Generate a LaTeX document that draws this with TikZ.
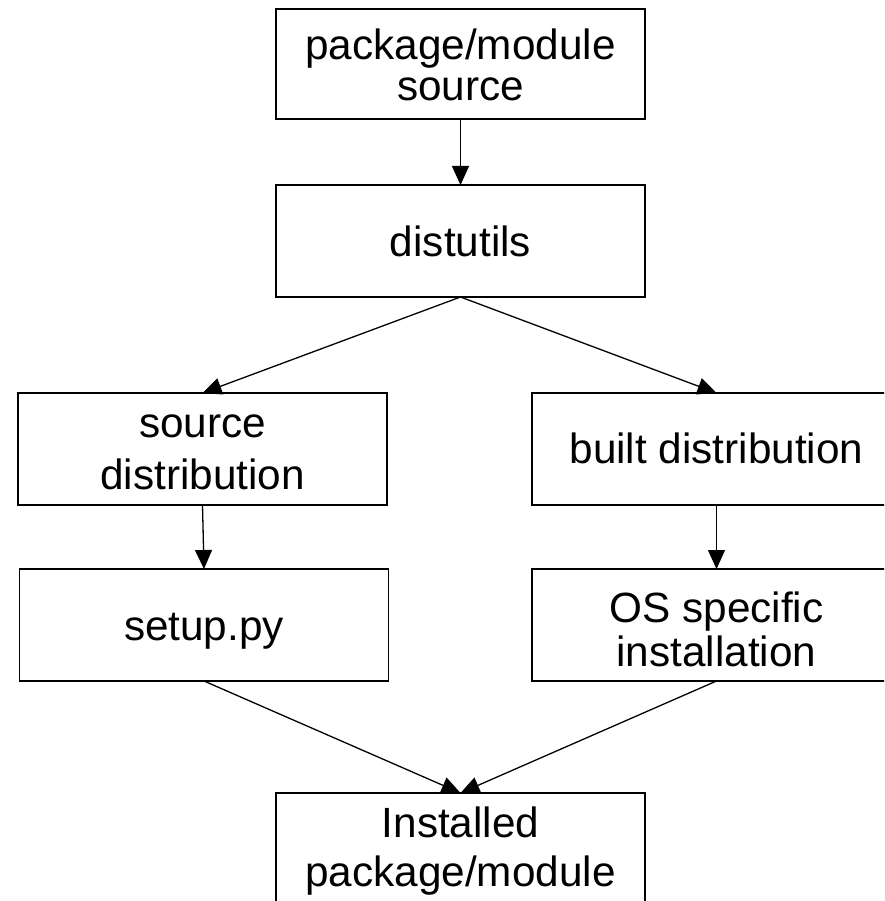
\documentclass[tikz,border=0pt]{standalone}
\usepackage{fontspec}
\setmainfont{Liberation Sans}
\usetikzlibrary{arrows.meta}
\newcommand{\lines}[4]{\rule{0pt}{#1pt}#3\\#4\rule[-#2pt]{0pt}{#2pt}}
\newcommand{\oneline}[3]{\rule{0pt}{#1pt}#3\rule[-#2pt]{0pt}{#2pt}}
\tikzset{
  flowbox/.style={draw=black, line width=1.4pt, minimum width=369pt, minimum height=112pt,
    inner sep=0pt, outer sep=0pt, align=center, text=black},
  flowarrow/.style={draw=black, line width=1.3pt, -{Triangle[length=19pt,width=17pt]}},
  fs/.style={font=\fontsize{42.3pt}{#1pt}\selectfont}
}
\begin{document}
\begin{tikzpicture}[x=1pt, y=-1pt]
\useasboundingbox (0,0) rectangle (884,901);
\clip (0,0) rectangle (884,901);
\node[flowbox, minimum height=110pt, fs=41] (src) at (460.5,64) {\lines{45}{12}{package/module}{source}};
\node[flowbox, fs=44] (dist) at (460.5,241) {\oneline{42}{12}{distutils}};
\node[flowbox, fs=52] (sdist) at (202.5,449) {\lines{40}{12}{source}{distribution}};
\node[flowbox, fs=44] (bdist) at (716.5,449) {\oneline{40}{12}{built distribution}};
\node[flowbox, fs=44] (setup) at (204,625) {\oneline{42}{12}{setup.py}};
\node[flowbox, fs=44] (os) at (716.5,625) {\lines{50}{12}{OS specific}{installation}};
\node[flowbox, fs=49] (inst) at (460.5,849) {\lines{37}{12}{Installed}{package/module}};
\draw[flowarrow] (src.south) -- (dist.north);
\draw[flowarrow] (dist.south) -- (sdist.north);
\draw[flowarrow] (dist.south) -- (bdist.north);
\draw[flowarrow] (sdist.south) -- (setup.north);
\draw[flowarrow] (bdist.south) -- (os.north);
\draw[flowarrow] (setup.south) -- (inst.north);
\draw[flowarrow] (os.south) -- (inst.north);
\end{tikzpicture}
\end{document}
